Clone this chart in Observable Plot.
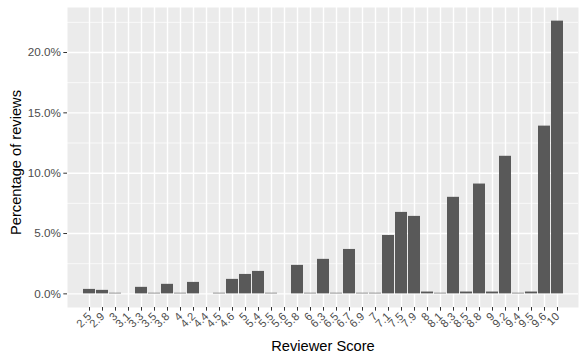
<!DOCTYPE html>
<html>
<head>
<meta charset="utf-8">
<script src="https://cdn.jsdelivr.net/npm/d3@7"></script>
<script src="https://cdn.jsdelivr.net/npm/@observablehq/plot@0.6"></script>
<style>
  html, body { margin: 0; padding: 0; background: #ffffff; }
  #chart svg { display: block; }
</style>
</head>
<body>
<div id="chart"></div>
<script>
const scores = ["2.5","2.9","3","3.1","3.3","3.5","3.8","4","4.2","4.4","4.5","4.6","5","5.4","5.5","5.6","5.8","6","6.3","6.5","6.7","6.9","7","7.1","7.5","7.9","8","8.1","8.3","8.5","8.8","9","9.2","9.4","9.5","9.6","10"];
const percents = [0.37,0.29,0.05,0,0.54,0.05,0.79,0.05,0.95,0,0.05,1.2,1.61,1.86,0.05,0,2.36,0.05,2.86,0.05,3.68,0.05,0.05,4.84,6.75,6.42,0.15,0.05,8.0,0.15,9.1,0.15,11.4,0.05,0.15,13.9,22.6];
const yTicks = [0, 5, 10, 15, 20];
const yMinor = [2.5, 7.5, 12.5, 17.5, 22.5];
const xTitle = "Reviewer Score";
const yTitle = "Percentage of reviews";

const data = scores.map((s, i) => ({score: s, pct: percents[i]}));
const maxV = d3.max(percents);
const pad = maxV * 0.05;

const chart = Plot.plot({
  width: 585,
  height: 361,
  marginLeft: 67,
  marginRight: 7,
  marginTop: 7,
  marginBottom: 54,
  style: {fontFamily: "'Liberation Sans', Arial, Helvetica, sans-serif", background: "#ffffff"},
  x: {type: "band", domain: scores, paddingInner: 0.1, paddingOuter: 0.15, axis: null},
  y: {domain: [-pad, maxV + pad], axis: null},
  marks: [
    Plot.frame({fill: "#EBEBEB", stroke: null}),
    Plot.ruleY(yMinor, {stroke: "#ffffff", strokeWidth: 0.7}),
    Plot.ruleY(yTicks, {stroke: "#ffffff", strokeWidth: 1.4}),
    Plot.ruleX(scores, {x: d => d, stroke: "#ffffff", strokeWidth: 1.4}),
    Plot.barY(data, {x: "score", y: "pct", fill: "#595959"}),
    Plot.axisY({ticks: yTicks, tickFormat: d => d.toFixed(1) + "%", tickSize: 3.67, tickPadding: 2.9,
      fontSize: 11.7, fill: "#4D4D4D", stroke: "#333333", label: null}),
    Plot.axisX({tickRotate: -45, tickSize: 3.67, tickPadding: 3.5, fontSize: 11.2,
      fill: "#4D4D4D", stroke: "#333333", label: null}),
    Plot.text([xTitle], {text: d => d, frameAnchor: "bottom", dy: 39, fontSize: 14.67, fill: "#000000", lineAnchor: "middle"}),
    Plot.text([yTitle], {text: d => d, frameAnchor: "left", dx: -51, dy: 5, rotate: -90, fontSize: 14.67, fill: "#000000", textAnchor: "middle", lineAnchor: "middle"})
  ]
});
document.getElementById("chart").appendChild(chart);
</script>
</body>
</html>
